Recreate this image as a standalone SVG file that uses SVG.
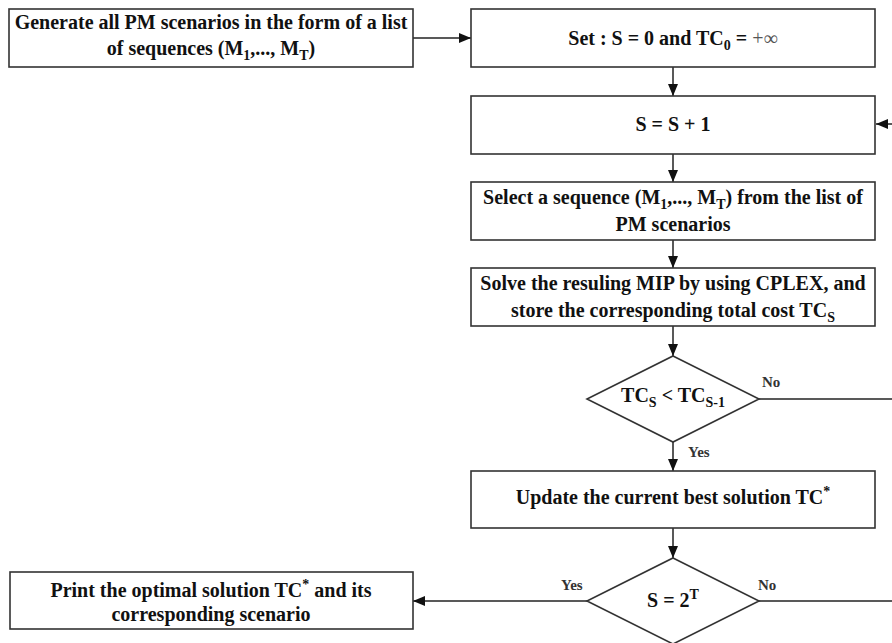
<svg xmlns="http://www.w3.org/2000/svg" width="892" height="643" viewBox="0 0 892 643">
<style>
.box{fill:#fff;stroke:#333;stroke-width:1.6}
.t{font-family:"Liberation Serif","Times New Roman",serif;font-weight:bold;font-size:20px;fill:#111;text-anchor:middle}
.sub{font-size:14px}
.lbl{font-family:"Liberation Serif","Times New Roman",serif;font-weight:bold;font-size:15px;fill:#333}
.c{fill:none;stroke:#222;stroke-width:1.5}
.inf{font-weight:normal;fill:#555}
</style>
<defs>
<marker id="ah" viewBox="0 0 12 10" refX="12" refY="5" markerWidth="12" markerHeight="10" orient="auto" markerUnits="userSpaceOnUse">
<path d="M0,0 L12,5 L0,10 z" fill="#111"/>
</marker>
</defs>
<rect width="892" height="643" fill="#fff"/>
<g id="connectors">
<path class="c" d="M413,38 H471" marker-end="url(#ah)"/>
<path class="c" d="M673,67 V96" marker-end="url(#ah)"/>
<path class="c" d="M673,154 V182" marker-end="url(#ah)"/>
<path class="c" d="M673,240 V268" marker-end="url(#ah)"/>
<path class="c" d="M673,326 V356" marker-end="url(#ah)"/>
<path class="c" d="M673,442 V471" marker-end="url(#ah)"/>
<path class="c" d="M673,528 V558" marker-end="url(#ah)"/>
<path class="c" d="M587,601 H413" marker-end="url(#ah)"/>
<path class="c" d="M759,399 H892"/>
<path class="c" d="M759,601 H892"/>
<path class="c" d="M892,124 H876" marker-end="url(#ah)"/>
<text class="lbl" x="762" y="387">No</text>
<text class="lbl" x="688" y="457">Yes</text>
<text class="lbl" x="758" y="590">No</text>
<text class="lbl" x="561" y="590">Yes</text>
</g>
<g id="generate">
<rect class="box" x="9" y="9" width="404" height="58"/>
<text class="t" x="211" y="29">Generate all PM scenarios in the form of a list</text>
<text class="t" x="211" y="55">of sequences (M<tspan class="sub" dy="5">1</tspan><tspan dy="-5">,..., M</tspan><tspan class="sub" dy="5">T</tspan><tspan dy="-5">)</tspan></text>
</g>
<g id="set">
<rect class="box" x="471" y="9" width="404" height="58"/>
<text class="t" x="673" y="45">Set : S = 0 and TC<tspan class="sub" dy="5">0</tspan><tspan dy="-5"> = </tspan><tspan class="inf">+∞</tspan></text>
</g>
<g id="increment">
<rect class="box" x="471" y="96" width="404" height="58"/>
<text class="t" x="673" y="131">S = S + 1</text>
</g>
<g id="select">
<rect class="box" x="471" y="182" width="404" height="58"/>
<text class="t" x="673" y="204">Select a sequence (M<tspan class="sub" dy="5">1</tspan><tspan dy="-5">,..., M</tspan><tspan class="sub" dy="5">T</tspan><tspan dy="-5">) from the list of</tspan></text>
<text class="t" x="673" y="231">PM scenarios</text>
</g>
<g id="solve">
<rect class="box" x="471" y="268" width="404" height="58"/>
<text class="t" x="673" y="290">Solve the resuling MIP by using CPLEX, and</text>
<text class="t" x="673" y="317">store the corresponding total cost TC<tspan class="sub" dy="5">S</tspan></text>
</g>
<g id="compare">
<polygon class="box" points="673,356 759,399 673,442 587,399"/>
<text class="t" x="673" y="402">TC<tspan class="sub" dy="5">S</tspan><tspan dy="-5"> &lt; TC</tspan><tspan class="sub" dy="5">S-1</tspan></text>
</g>
<g id="update">
<rect class="box" x="471" y="471" width="404" height="57"/>
<text class="t" x="673" y="504">Update the current best solution TC<tspan class="sub" dy="-8">*</tspan></text>
</g>
<g id="check">
<polygon class="box" points="673,558 759,601 673,644 587,601"/>
<text class="t" x="673" y="607">S = 2<tspan class="sub" dy="-8">T</tspan></text>
</g>
<g id="print">
<rect class="box" x="10" y="572" width="403" height="57"/>
<text class="t" x="211" y="597">Print the optimal solution TC<tspan class="sub" dy="-8">*</tspan><tspan dy="8"> and its</tspan></text>
<text class="t" x="211" y="621">corresponding scenario</text>
</g>
</svg>
